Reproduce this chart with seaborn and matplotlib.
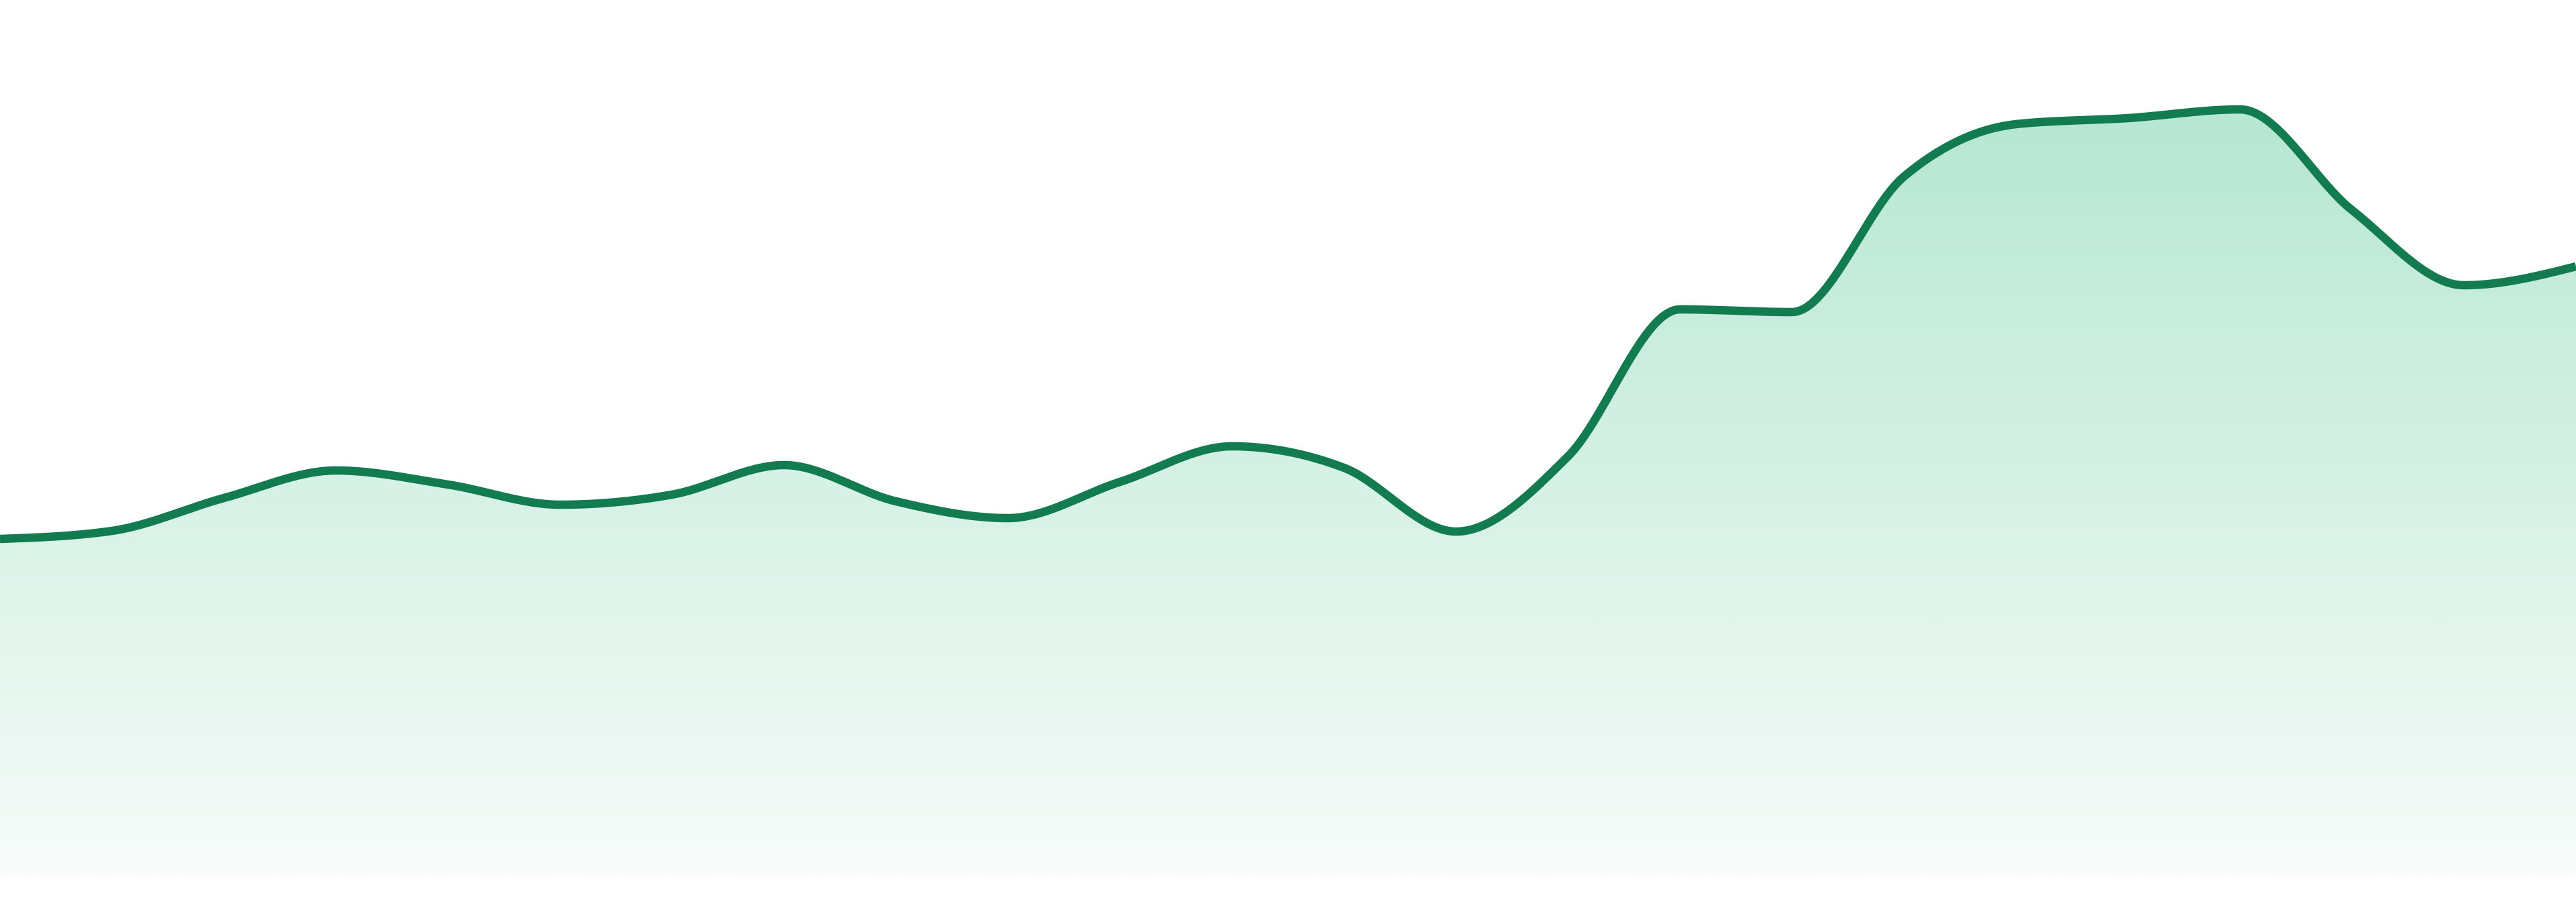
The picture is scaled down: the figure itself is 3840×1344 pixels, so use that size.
import numpy as np
import matplotlib
matplotlib.use("Agg")
import matplotlib.pyplot as plt
import seaborn as sns
from matplotlib.colors import LinearSegmentedColormap

# values (one point per step, 24 steps)
steps = list(range(24))
values = [50.2, 51.4, 56.3, 60.4, 58.3, 55.3, 56.8, 61.2, 55.8, 53.3, 58.7, 64.0,
          60.8, 51.3, 62.5, 84.4, 84.0, 104.2, 112.0, 112.9, 114.2, 99.2, 88.0, 90.8]

line_color = "#127b50"
fill_top = "#b6e7d3"
fill_bottom = "#f8fcfa"


def monotone_curve(x, y, n=40):
    """Smooth monotone cubic through the points (same idea as d3 curveMonotoneX)."""
    x = np.asarray(x, float)
    y = np.asarray(y, float)
    h = np.diff(x)
    s = np.diff(y) / h
    t = np.zeros_like(y)
    for i in range(1, len(y) - 1):
        p = (s[i - 1] * h[i] + s[i] * h[i - 1]) / (h[i - 1] + h[i])
        t[i] = (np.sign(s[i - 1]) + np.sign(s[i])) * min(abs(s[i - 1]), abs(s[i]), 0.5 * abs(p))
    t[0] = (3 * s[0] - t[1]) / 2
    t[-1] = (3 * s[-1] - t[-2]) / 2
    xs, ys = [], []
    for i in range(len(h)):
        u = np.linspace(0, 1, n, endpoint=(i == len(h) - 1))
        h00 = 2 * u**3 - 3 * u**2 + 1
        h10 = u**3 - 2 * u**2 + u
        h01 = -2 * u**3 + 3 * u**2
        h11 = u**3 - u**2
        xs.append(x[i] + u * h[i])
        ys.append(h00 * y[i] + h10 * h[i] * t[i] + h01 * y[i + 1] + h11 * h[i] * t[i + 1])
    return np.concatenate(xs), np.concatenate(ys)


sns.set_theme(style="white")
fig = plt.figure(figsize=(38.4, 13.44), dpi=100)
ax = fig.add_axes([0, 39 / 1344, 1, 1305 / 1344])
ymax = 130.5

cx, cy = monotone_curve(steps, values)

# gradient fill under the curve
cmap = LinearSegmentedColormap.from_list("fade", [fill_bottom, fill_top])
top_val = max(values)
grad = np.linspace(0, 1, 512).reshape(-1, 1)
img = ax.imshow(grad, cmap=cmap, aspect="auto", origin="lower",
                extent=[0, 23, 0, top_val], zorder=1)
poly = ax.fill_between(cx, cy, 0, color="none", lw=0)
img.set_clip_path(poly.get_paths()[0], transform=ax.transData)

sns.lineplot(x=cx, y=cy, ax=ax, color=line_color, linewidth=9, sort=False,
             zorder=3, solid_capstyle="butt")

ax.set_xlim(0, 23)
ax.set_ylim(0, ymax)
ax.axis("off")

fig.savefig("out.png", dpi=100, facecolor="white")
